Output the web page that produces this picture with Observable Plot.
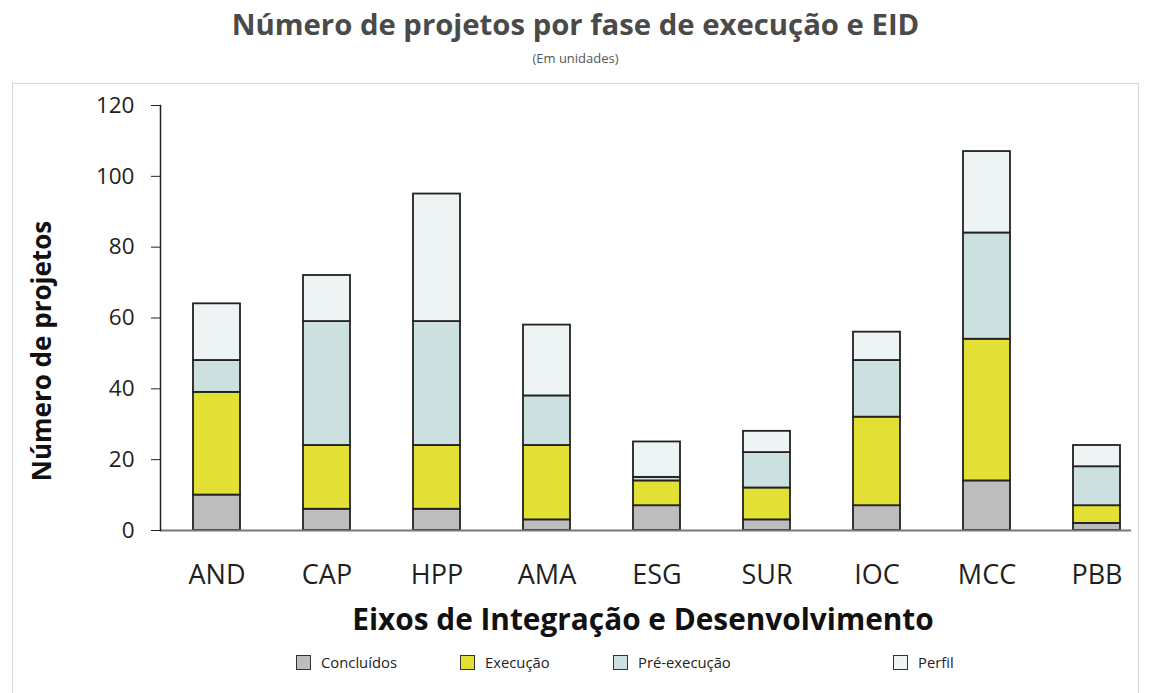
<!DOCTYPE html>
<html>
<head>
<meta charset="utf-8">
<script src="https://cdn.jsdelivr.net/npm/d3@7"></script>
<script src="https://cdn.jsdelivr.net/npm/@observablehq/plot@0.6"></script>
<style>
  html, body { margin: 0; padding: 0; background: #fff; overflow: hidden; }
  body { position: relative; width: 1151px; height: 693px; font-family: "Open Sans", "Noto Sans", sans-serif; }
  #title { position: absolute; left: 0; width: 1151px; top: 9px; text-align: center; font-size: 29.3px; font-weight: 700; color: #4a4a4a; line-height: 30px; }
  #subtitle { position: absolute; left: 0; width: 1151px; top: 50px; text-align: center; font-size: 13px; color: #555; line-height: 16px; }
  #box { position: absolute; left: 12px; top: 83px; width: 1127px; height: 640px; border: 1px solid #d6d6d6; box-sizing: border-box; }
  #chart { position: absolute; left: 0; top: 83px; }
  .leg { position: absolute; top: 652px; display: flex; align-items: center; font-size: 14.8px; color: #222; }
  .leg span.sw { display: inline-block; width: 13px; height: 13px; border: 1.5px solid #333; margin-right: 10px; }
</style>
</head>
<body>
<div id="title">Número de projetos por fase de execução e EID</div>
<div id="subtitle">(Em unidades)</div>
<div id="box"></div>
<div id="chart"></div>
<div id="legend"></div>
<script>
const eixos = ["AND", "CAP", "HPP", "AMA", "ESG", "SUR", "IOC", "MCC", "PBB"];
const fases = ["Concluídos", "Execução", "Pré-execução", "Perfil"];
const concluidos = [10, 6, 6, 3, 7, 3, 7, 14, 2];
const execucao = [29, 18, 18, 21, 7, 9, 25, 40, 5];
const preExecucao = [9, 35, 35, 14, 1, 10, 16, 30, 11];
const perfil = [16, 13, 36, 20, 10, 6, 8, 23, 6];
const yTicks = [0, 20, 40, 60, 80, 100, 120];
const cores = ["#bdbdbd", "#e2e035", "#cde0e0", "#eef4f4"];

const series = [concluidos, execucao, preExecucao, perfil];
const data = [];
eixos.forEach((e, i) => {
  fases.forEach((f, j) => data.push({eixo: e, fase: f, valor: series[j][i]}));
});

const chart = Plot.plot({
  width: 1151,
  height: 560,
  marginTop: 22,
  marginBottom: 113,
  marginLeft: 160,
  marginRight: 20,
  style: {fontFamily: "'Open Sans', 'Noto Sans', sans-serif", color: "#231f20", background: "transparent"},
  x: {domain: eixos, range: [160, 1153], paddingInner: 0.573, paddingOuter: 0.3},
  y: {domain: [0, 120]},
  color: {domain: fases, range: cores},
  marks: [
    Plot.barY(data, Plot.stackY({x: "eixo", y: "valor", fill: "fase", order: fases, stroke: "#222", strokeWidth: 1.8})),
    Plot.ruleY([0], {stroke: "#777", strokeWidth: 2}),
    Plot.frame({anchor: "left", stroke: "#222", strokeWidth: 1.5}),
    Plot.axisY({ticks: yTicks, tickSize: 9, tickPadding: 17, fontSize: 22.5, label: null, stroke: "#222"}),
    Plot.axisX({tickSize: 0, tickPadding: 34, fontSize: 27, label: null}),
    Plot.text(["Número de projetos"], {frameAnchor: "left", text: d => d, textAnchor: "middle", lineAnchor: "middle", rotate: -90, dx: -118, dy: 33, fontSize: 26, fontWeight: "bold", fill: "#111"}),
    Plot.text(["Eixos de Integração e Desenvolvimento"], {frameAnchor: "bottom", text: d => d, textAnchor: "middle", lineAnchor: "middle", dx: -3, dy: 90, fontSize: 29.8, fontWeight: "bold", fill: "#111"})
  ]
});
document.getElementById("chart").appendChild(chart);

const legPos = [296, 460, 613, 893];
const legend = document.getElementById("legend");
fases.forEach((f, i) => {
  const d = document.createElement("div");
  d.className = "leg";
  d.style.left = legPos[i] + "px";
  d.innerHTML = `<span class="sw" style="background:${cores[i]}"></span>${f}`;
  legend.appendChild(d);
});
</script>
</body>
</html>
